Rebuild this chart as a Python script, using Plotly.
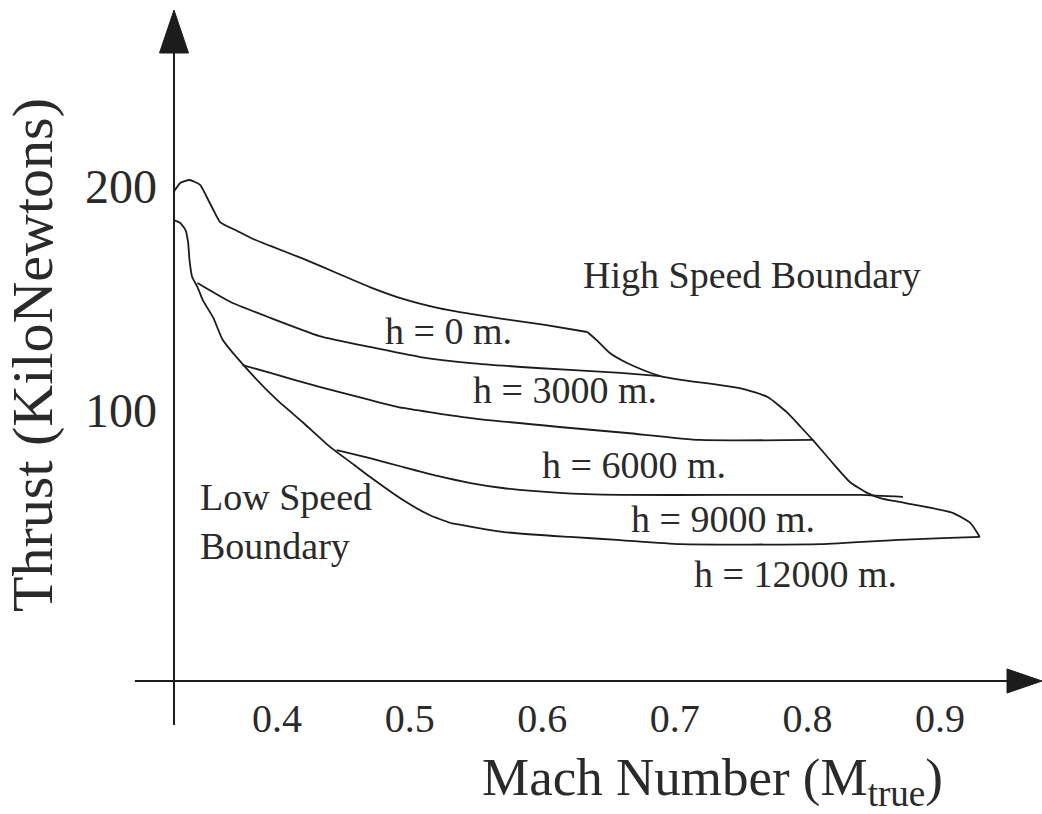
import plotly.graph_objects as go

# ---- flight envelope curves: Mach number vs available thrust (kN) ----
mach_h0 = [0.322, 0.327, 0.334, 0.342, 0.347, 0.352, 0.357, 0.370, 0.382, 0.395, 0.420,
           0.445, 0.470, 0.495, 0.521, 0.546, 0.570, 0.602, 0.634]
thrust_h0 = [197.5, 201.6, 202.9, 200.7, 195.3, 189.5, 184.1, 180.1, 176.5, 173.4, 167.6,
             161.3, 155.0, 149.7, 145.7, 143.0, 140.8, 138.1, 134.9]

mach_h3000 = [0.340, 0.365, 0.395, 0.432, 0.470, 0.508, 0.546, 0.596, 0.659, 0.689]
thrust_h3000 = [156.8, 148.3, 141.2, 133.1, 128.2, 123.7, 121.0, 118.8, 116.6, 115.2]

mach_h6000 = [0.374, 0.395, 0.432, 0.470, 0.495, 0.546, 0.613, 0.664, 0.719, 0.804]
thrust_h6000 = [120.1, 116.6, 110.3, 104.5, 100.9, 96.4, 92.4, 89.7, 86.6, 86.6]

mach_h9000 = [0.445, 0.470, 0.495, 0.521, 0.546, 0.570, 0.613, 0.659, 0.739, 0.840, 0.872]
thrust_h9000 = [82.1, 78.5, 74.5, 70.5, 67.3, 65.1, 62.9, 62.0, 62.0, 62.0, 61.1]

mach_h12000 = [0.531, 0.571, 0.621, 0.659, 0.704, 0.810, 0.865, 0.902, 0.930]
thrust_h12000 = [49.4, 45.4, 43.2, 41.8, 40.0, 40.0, 41.8, 42.7, 43.2]

mach_low = [0.322, 0.327, 0.331, 0.333, 0.334, 0.336, 0.340, 0.344, 0.352, 0.359,
            0.380, 0.400, 0.420, 0.440, 0.458, 0.470, 0.495, 0.515, 0.531]
thrust_low = [185.0, 183.7, 180.5, 174.7, 167.1, 159.5, 155.0, 149.2, 141.2, 131.4,
              116.6, 104.5, 94.2, 83.5, 75.5, 70.1, 59.7, 53.0, 49.4]

mach_high = [0.634, 0.641, 0.651, 0.664, 0.676, 0.689, 0.706, 0.749, 0.770, 0.785, 0.795,
             0.804, 0.819, 0.832, 0.845, 0.855, 0.865, 0.890, 0.910, 0.923, 0.930]
thrust_high = [134.9, 131.3, 125.5, 121.0, 117.9, 115.2, 113.4, 109.8, 105.8, 98.7, 92.4,
               86.6, 76.3, 67.8, 62.9, 60.6, 59.3, 56.6, 53.9, 49.4, 43.2]

# ---- label text and placement ----
curve_labels = ["h = 0 m.", "h = 3000 m.", "h = 6000 m.", "h = 9000 m.", "h = 12000 m."]
label_mach = [0.529, 0.617, 0.669, 0.736, 0.791]
label_thrust = [135.3, 109.0, 75.4, 51.2, 26.6]

x_ticks = [0.4, 0.5, 0.6, 0.7, 0.8, 0.9]
x_tick_text = ["0.4", "0.5", "0.6", "0.7", "0.8", "0.9"]
y_ticks = [100, 200]
y_tick_text = ["100", "200"]

x_range = [0.3223, 0.9769]
y_range = [-21.25, 278.97]

FONT = "Liberation Serif, Times New Roman, serif"
INK = "#1c1c1c"
TEXT = "#2a2a2a"

fig = go.Figure()
curves = [
    (mach_h0, thrust_h0), (mach_h3000, thrust_h3000), (mach_h6000, thrust_h6000),
    (mach_h9000, thrust_h9000), (mach_h12000, thrust_h12000),
    (mach_low, thrust_low), (mach_high, thrust_high),
]
for mx, ty in curves:
    fig.add_trace(go.Scatter(
        x=mx, y=ty, mode="lines",
        line=dict(color=INK, width=1.8, shape="spline", smoothing=0.5),
        showlegend=False, hoverinfo="skip",
    ))

annotations = []
for text, mx, ty in zip(curve_labels, label_mach, label_thrust):
    annotations.append(dict(x=mx, y=ty, xref="x", yref="y", text=text, showarrow=False,
                            xanchor="center", yanchor="middle",
                            font=dict(family=FONT, size=38, color=TEXT)))
annotations.append(dict(x=0.758, y=160.4, xref="x", yref="y", text="High Speed Boundary",
                        showarrow=False, xanchor="center", yanchor="middle",
                        font=dict(family=FONT, size=38, color=TEXT)))
annotations.append(dict(x=0.3404, y=50.3, xref="x", yref="y", text="Low Speed<br>Boundary",
                        showarrow=False, xanchor="left", yanchor="middle", align="left",
                        font=dict(family=FONT, size=38, color=TEXT)))
# axis titles
annotations.append(dict(x=0.62, y=-0.149, xref="paper", yref="paper",
                        xanchor="center", yanchor="middle",
                        text="Mach Number (M<sub>true</sub>)", showarrow=False,
                        font=dict(family=FONT, size=53, color=TEXT)))
annotations.append(dict(x=-0.1624, y=0.486, xref="paper", yref="paper",
                        xanchor="center", yanchor="middle",
                        text="Thrust (KiloNewtons)", showarrow=False, textangle=-90,
                        font=dict(family=FONT, size=58, color=TEXT)))

# axes drawn as lines with solid arrowheads
shapes = [
    dict(type="line", xref="paper", yref="paper", x0=-0.045, y0=0, x1=0.965, y1=0,
         line=dict(color=INK, width=2)),
    dict(type="line", xref="paper", yref="paper", x0=0, y0=-0.0656, x1=0, y1=0.94,
         line=dict(color=INK, width=2)),
    dict(type="path", xref="paper", yref="paper",
         path="M 0.9597 0.0179 L 1.0 0 L 0.9597 -0.0179 Z",
         fillcolor=INK, line=dict(color=INK, width=1)),
    dict(type="path", xref="paper", yref="paper",
         path="M -0.0167 0.9359 L 0 1.0 L 0.0167 0.9359 Z",
         fillcolor=INK, line=dict(color=INK, width=1)),
]

fig.update_layout(
    width=1042, height=814,
    margin=dict(l=174, r=0, t=10, b=133),
    paper_bgcolor="white", plot_bgcolor="white",
    annotations=annotations, shapes=shapes,
    xaxis=dict(range=x_range, tickvals=x_ticks, ticktext=x_tick_text,
               showgrid=False, zeroline=False, showline=False, ticks="",
               ticklabelstandoff=10,
               tickfont=dict(family=FONT, size=40, color=TEXT)),
    yaxis=dict(range=y_range, tickvals=y_ticks, ticktext=y_tick_text,
               showgrid=False, zeroline=False, showline=False, ticks="",
               ticklabelstandoff=16,
               tickfont=dict(family=FONT, size=48, color=TEXT)),
)

fig.write_html("out.html")
